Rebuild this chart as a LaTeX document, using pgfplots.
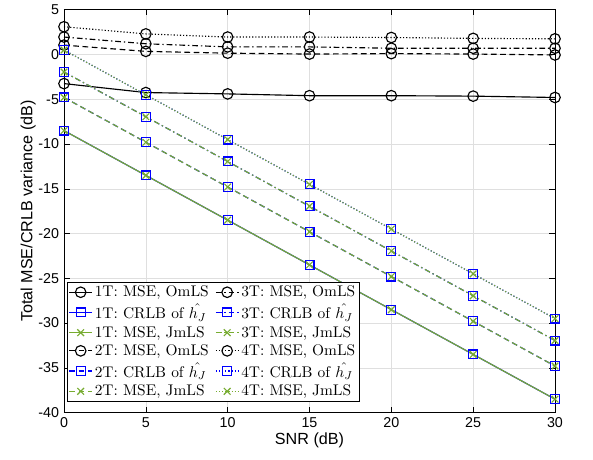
\documentclass[border=0pt]{standalone}
\usepackage{fontspec}
\usepackage{pgfplots}
\pgfplotsset{compat=1.18}
\newfontfamily\arial{Liberation Sans}
\definecolor{mgreen}{rgb}{0.466,0.674,0.188}
\begin{document}
\begin{tikzpicture}
\begin{axis}[
  scale only axis,
  width=343.7pt, height=282pt,
  xmin=0, xmax=30, ymin=-40, ymax=5,
  xtick={0,5,...,30}, ytick={-40,-35,...,5},
  tick align=inside,
  tick style={black, line width=0.4pt},
  major tick length=4pt,
  axis line style={black, line width=0.5pt},
  grid=major,
  grid style={gray!25, line width=0.4pt},
  ticklabel style={font=\arial},
  /pgf/number format/assume math mode=true,
  label style={font=\arial\fontsize{11.3}{13}\selectfont},
  xlabel={SNR (dB)},
  ylabel={Total MSE/CRLB variance (dB)},
  xlabel style={yshift=3pt},
  ylabel style={yshift=-5pt},
  legend columns=2,
  legend cell align=left,
  legend style={at={(rel axis cs:0.006,0.027)}, anchor=south west,
    draw=black, line width=0.5pt, fill=white, inner sep=1pt,
    font=\fontsize{10.8}{12.3}\selectfont, row sep=0.6pt,
    /tikz/every even column/.append style={column sep=3pt},
    nodes={inner sep=1.5pt}},
  legend image code/.code={
    \draw[mark repeat=2,mark phase=2] plot coordinates {(0cm,0cm) (0.28cm,0cm) (0.56cm,0cm)};},
  every axis plot/.append style={line width=0.8pt},
]
% 1T OmLS
\addplot[black, solid, mark=o, mark size=3.7pt, mark options={solid}] coordinates {
(0,-3.25) (5,-4.25) (10,-4.4) (15,-4.6) (20,-4.6) (25,-4.65) (30,-4.8)};
\addlegendentry{1T: MSE, OmLS}
% 3T OmLS
\addplot[black, dash pattern=on 4pt off 2pt on 1pt off 2pt, mark=o, mark size=3.7pt, mark options={solid}] coordinates {
(0,1.95) (5,1.2) (10,0.85) (15,0.85) (20,0.7) (25,0.7) (30,0.7)};
\addlegendentry{3T: MSE, OmLS}
% 1T CRLB
\addplot[blue, solid, mark=square, mark size=3.1pt, mark options={solid}] coordinates {
(0,-8.5) (5,-13.5) (10,-18.5) (15,-23.5) (20,-28.5) (25,-33.5) (30,-38.5)};
\addlegendentry{1T: CRLB of $\hat{h_J}$}
% 3T CRLB
\addplot[blue, dash pattern=on 4pt off 2pt on 1pt off 2pt, mark=square, mark size=3.1pt, mark options={solid}] coordinates {
(0,-1.95) (5,-6.95) (10,-11.95) (15,-16.95) (20,-21.95) (25,-26.95) (30,-31.95)};
\addlegendentry{3T: CRLB of $\hat{h_J}$}
% 1T JmLS
\addplot[mgreen, solid, mark=x, mark size=3.3pt, mark options={solid}] coordinates {
(0,-8.5) (5,-13.5) (10,-18.5) (15,-23.5) (20,-28.5) (25,-33.5) (30,-38.5)};
\addlegendentry{1T: MSE, JmLS}
% 3T JmLS
\addplot[mgreen, dash pattern=on 4pt off 2pt on 1pt off 2pt, mark=x, mark size=3.3pt, mark options={solid}] coordinates {
(0,-1.95) (5,-6.95) (10,-11.95) (15,-16.95) (20,-21.95) (25,-26.95) (30,-31.95)};
\addlegendentry{3T: MSE, JmLS}
% 2T OmLS
\addplot[black, dash pattern=on 4pt off 2.5pt, mark=o, mark size=3.7pt, mark options={solid}] coordinates {
(0,1.05) (5,0.35) (10,0.15) (15,0.05) (20,0.1) (25,0.05) (30,-0.05)};
\addlegendentry{2T: MSE, OmLS}
% 4T OmLS
\addplot[black, dash pattern=on 0.8pt off 1.4pt, mark=o, mark size=3.7pt, mark options={solid}] coordinates {
(0,3.1) (5,2.3) (10,1.95) (15,1.95) (20,1.9) (25,1.8) (30,1.75)};
\addlegendentry{4T: MSE, OmLS}
% 2T CRLB
\addplot[blue, dash pattern=on 4pt off 2.5pt, mark=square, mark size=3.1pt, mark options={solid}] coordinates {
(0,-4.8) (5,-9.8) (10,-14.8) (15,-19.8) (20,-24.8) (25,-29.8) (30,-34.8)};
\addlegendentry{2T: CRLB of $\hat{h_J}$}
% 4T CRLB
\addplot[blue, dash pattern=on 0.8pt off 1.4pt, mark=square, mark size=3.1pt, mark options={solid}] coordinates {
(0,0.5) (5,-4.5) (10,-9.5) (15,-14.5) (20,-19.5) (25,-24.5) (30,-29.5)};
\addlegendentry{4T: CRLB of $\hat{h_J}$}
% 2T JmLS
\addplot[mgreen, dash pattern=on 4pt off 2.5pt, mark=x, mark size=3.3pt, mark options={solid}] coordinates {
(0,-4.8) (5,-9.8) (10,-14.8) (15,-19.8) (20,-24.8) (25,-29.8) (30,-34.8)};
\addlegendentry{2T: MSE, JmLS}
% 4T JmLS
\addplot[mgreen, dash pattern=on 0.8pt off 1.4pt, mark=x, mark size=3.3pt, mark options={solid}] coordinates {
(0,0.5) (5,-4.5) (10,-9.5) (15,-14.5) (20,-19.5) (25,-24.5) (30,-29.5)};
\addlegendentry{4T: MSE, JmLS}
\end{axis}
\path ([xshift=-44.8pt,yshift=-33pt]current axis.south west) rectangle ([xshift=26.6pt,yshift=3.5pt]current axis.north east);
\end{tikzpicture}
\end{document}
